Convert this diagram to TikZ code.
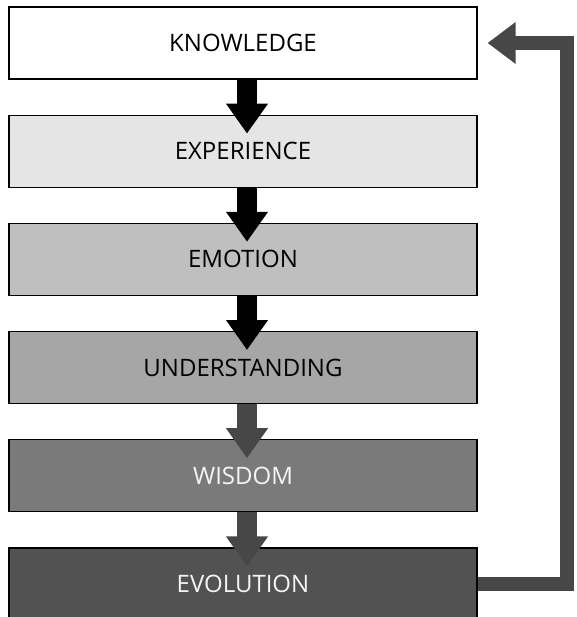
\documentclass[tikz,border=0pt]{standalone}
\usepackage{fontspec}
\setmainfont{Open Sans}
\usetikzlibrary{chains, positioning, arrows.meta}
\tikzset{
  stage/.style = {draw, line width=1.2pt, inner sep=0, minimum width=468pt, minimum height=72pt, font=\fontsize{24}{26}\selectfont},
  flow/.style = {line width=20pt, -{Triangle[width=40pt, length=30pt]}},
  feedback/.style = {line width=14pt, line join=miter, draw=black!72, -{Triangle[width=40pt, length=28pt]}},
}

\begin{document}
\begin{tikzpicture}[start chain=1 going below, node distance=35pt]
        \useasboundingbox (0,0) rectangle (576pt,-617pt);
        % The stages, lightest on top
        \node (stage1) [stage, fill=white, on chain=1] at (243pt,-43pt) {KNOWLEDGE};
        \foreach \X/\f/\t [count=\i from 2] in {
          EXPERIENCE/black!10/black,
          EMOTION/black!25/black,
          UNDERSTANDING/black!35/black,
          WISDOM/black!52/black!4,
          EVOLUTION/black!68/black!4%
        }{
          \node (stage\i) [stage, fill=\f, text=\t, on chain=1] {\X};
        }
        % Arrows between the stages
        \foreach \i/\j/\c in {1/2/black, 2/3/black, 3/4/black, 4/5/black!72, 5/6/black!72}{
          \draw [flow, draw=\c] ([xshift=4pt]stage\i.south) -- ([xshift=4pt, yshift=-19pt]stage\j.north);
        }
        \draw [feedback] (stage6.east) -| ([xshift=89pt]stage1.east) -- ([xshift=10pt]stage1.east);
      \end{tikzpicture}
\end{document}
